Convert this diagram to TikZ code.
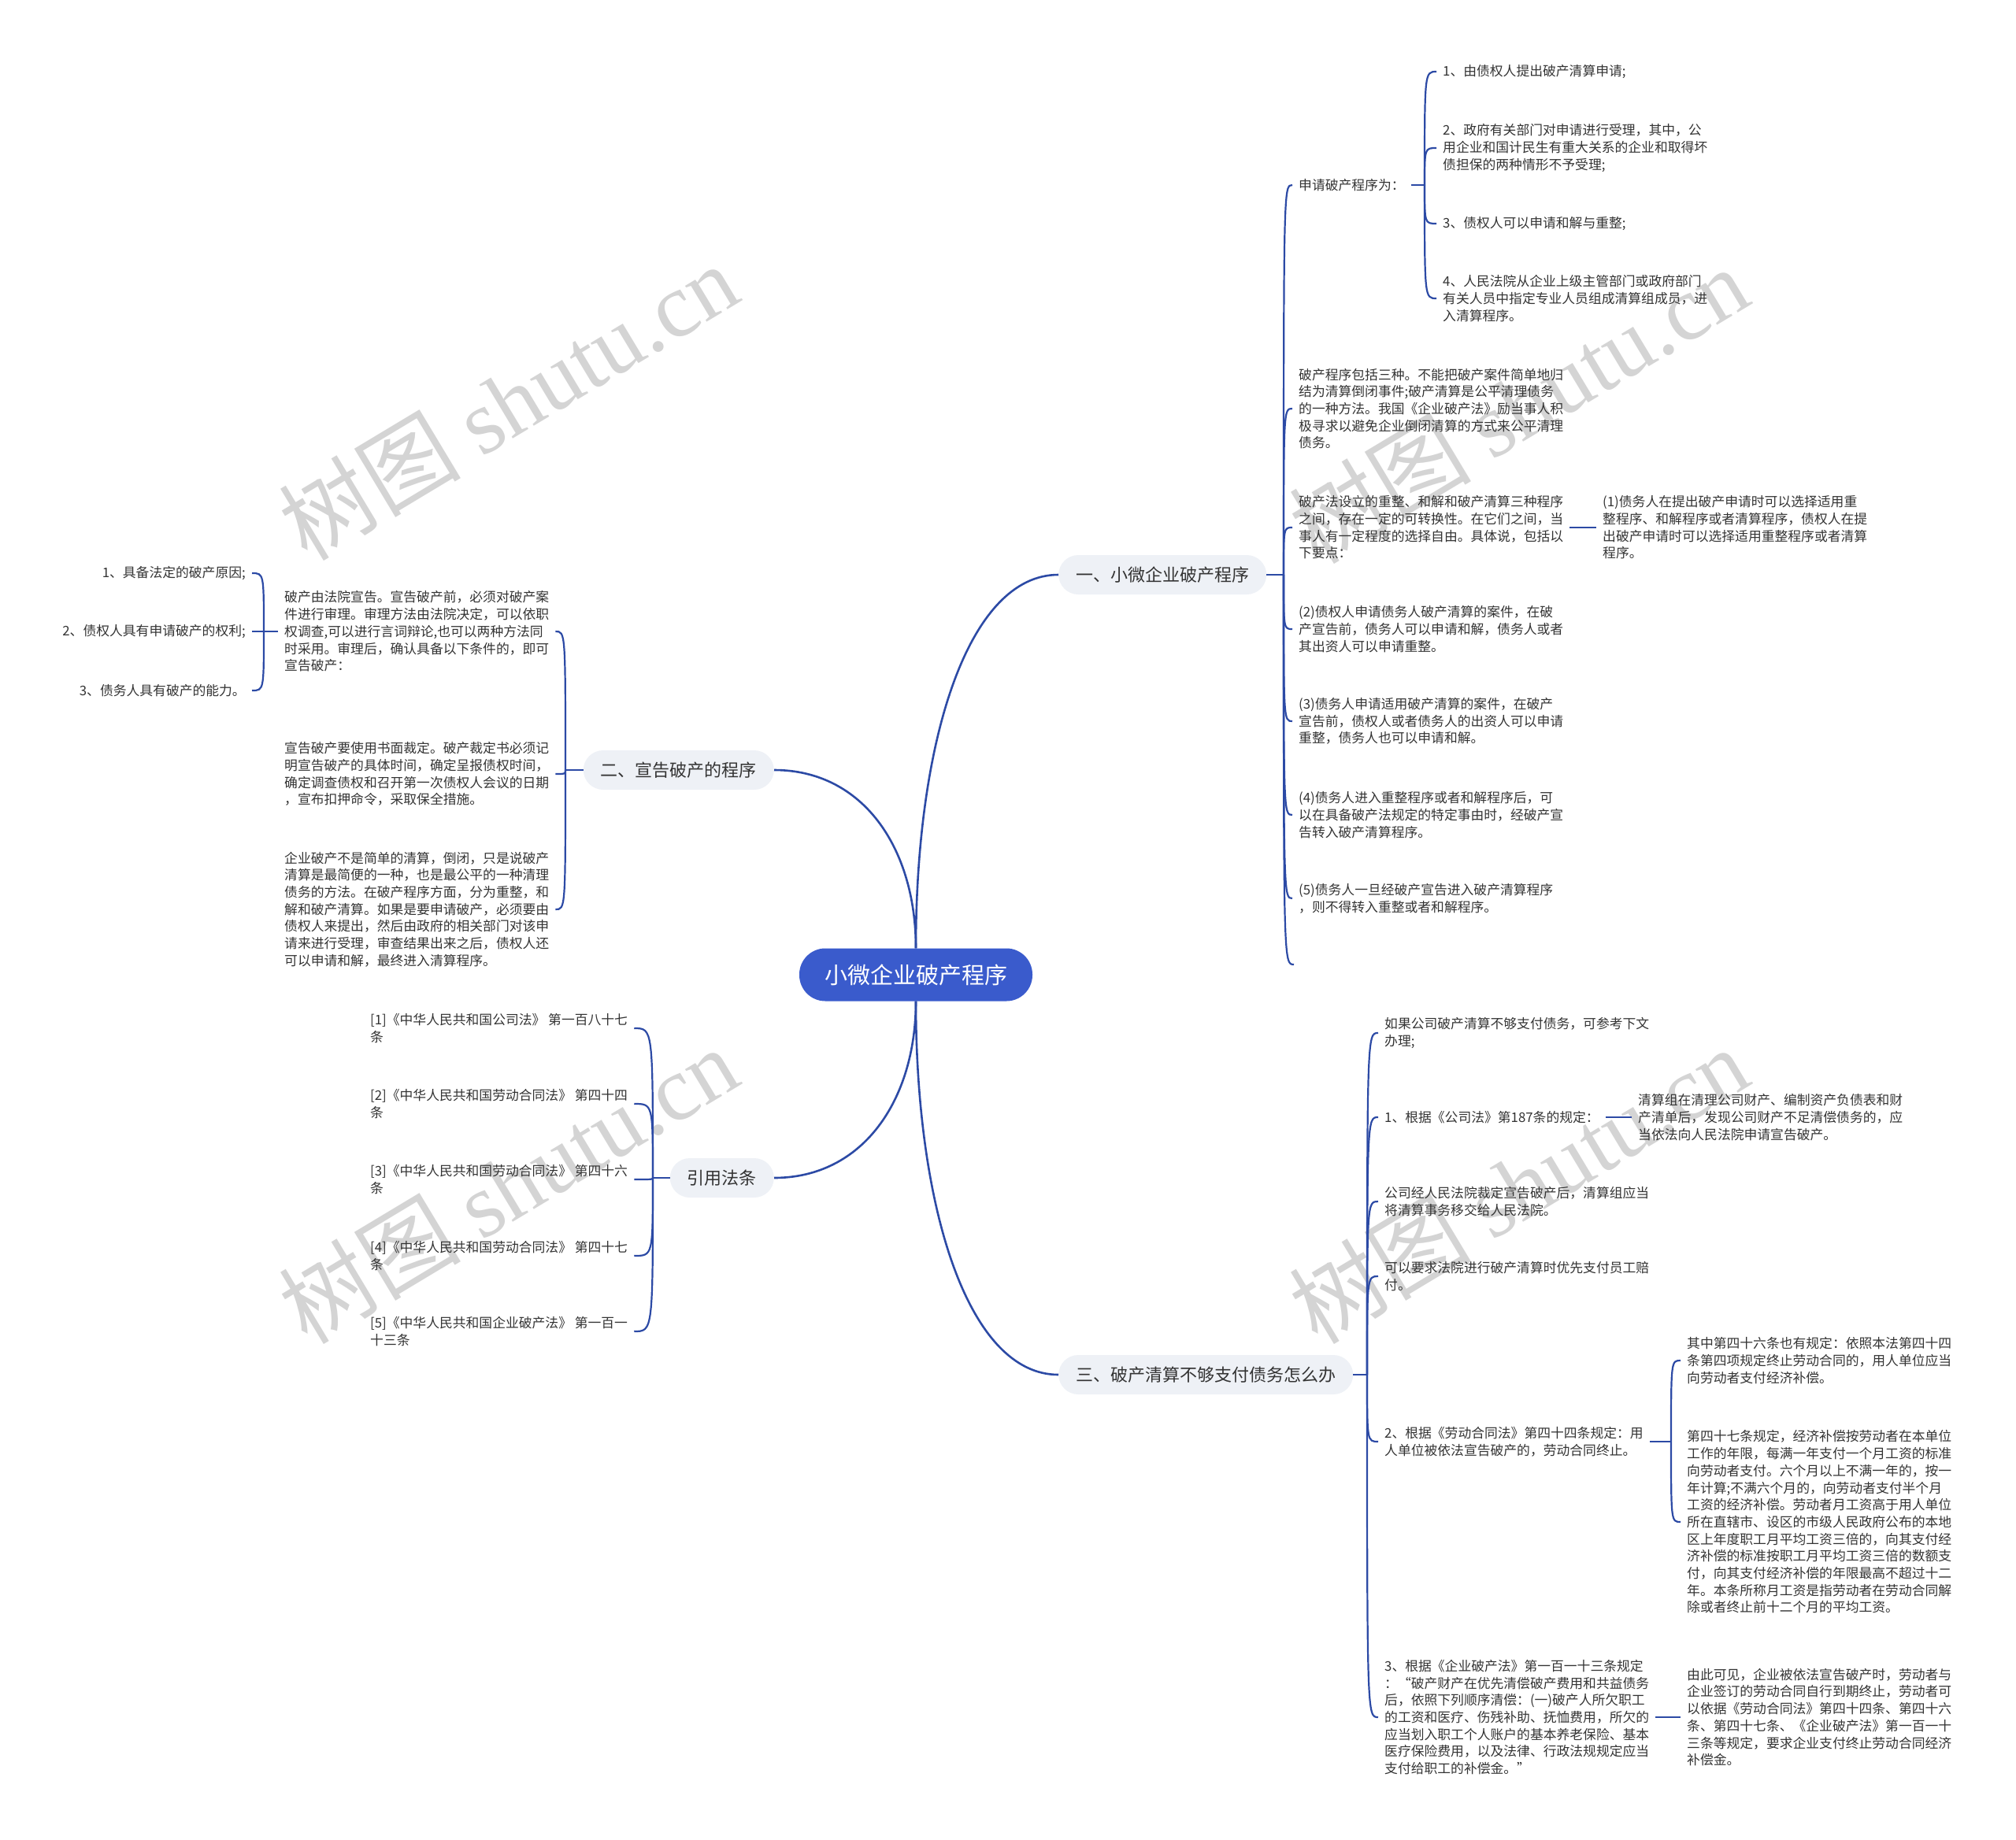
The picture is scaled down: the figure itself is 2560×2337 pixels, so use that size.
\documentclass[tikz,border=0pt]{standalone}
\usepackage{fontspec}
\setmainfont{Noto Sans CJK SC}
\newfontfamily\wmlatin{Liberation Serif}
\definecolor{rootblue}{HTML}{3A5BCC}
\definecolor{branchfill}{HTML}{EEF1F6}
\definecolor{linkblue}{HTML}{2C4AA5}
\definecolor{txt}{HTML}{333333}
\definecolor{wmgray}{HTML}{D4D4D4}
\tikzset{
  rootnode/.style={fill=rootblue,text=white,rounded corners=33pt,inner xsep=32pt,
    minimum height=67pt,font=\fontsize{29}{34}\selectfont},
  branchnode/.style={fill=branchfill,text=txt,rounded corners=25pt,inner xsep=22pt,
    minimum height=50pt,font=\fontsize{22}{26}\selectfont},
  leaf/.style={text=txt,align=left,inner xsep=8pt,inner ysep=3pt,
    font=\fontsize{16.8}{21.7}\selectfont},
  leafr/.style={leaf,align=right},
  link/.style={draw=linkblue,line width=2.6pt},
  twig/.style={draw=linkblue,line width=2.2pt},
  wmark/.style={text=wmgray,rotate=31,font=\fontsize{116}{116}\selectfont}
}
\begin{document}
\begin{tikzpicture}[x=1pt,y=-1pt]
    \useasboundingbox (0,0) rectangle (2560,2337);

    \foreach \x/\y [count=\i] in {645/510,1928/514,645/1505,1928/1505}{
      \node[wmark] (wm\i) at (\x,\y) {树图 {\wmlatin shutu.cn}};
    }

    \node[rootnode] (root) at (1163,1238) {小微企业破产程序};

    \node[branchnode,anchor=west] (b1) at (1344,730) {一、小微企业破产程序};
    \node[branchnode,anchor=east] (b2) at (983,978) {二、宣告破产的程序};
    \node[branchnode,anchor=east] (b3) at (983,1496) {引用法条};
    \node[branchnode,anchor=west] (b4) at (1344,1746) {三、破产清算不够支付债务怎么办};

    \draw[link] (root.north) .. controls +(0,-266) and +(-114,0) .. (b1.west);
    \draw[link] (root.north) .. controls +(0,-127) and +(113,0) .. (b2.east);
    \draw[link] (root.south) .. controls +(0,125) and +(113,0) .. (b3.east);
    \draw[link] (root.south) .. controls +(0,265) and +(-114,0) .. (b4.west);

    % 一
    \coordinate (j1) at (1630,730);
    \draw[twig] (b1.east) -- (j1);
    \foreach \n/\y/\t in {
        c11/235/{申请破产程序为：},
        c12/519/{破产程序包括三种。不能把破产案件简单地归\\结为清算倒闭事件;破产清算是公平清理债务\\的一种方法。我国《企业破产法》励当事人积\\极寻求以避免企业倒闭清算的方式来公平清理\\债务。},
        c13/670/{破产法设立的重整、和解和破产清算三种程序\\之间，存在一定的可转换性。在它们之间，当\\事人有一定程度的选择自由。具体说，包括以\\下要点：},
        c14/799/{(2)债权人申请债务人破产清算的案件，在破\\产宣告前，债务人可以申请和解，债务人或者\\其出资人可以申请重整。},
        c15/916/{(3)债务人申请适用破产清算的案件，在破产\\宣告前，债权人或者债务人的出资人可以申请\\重整，债务人也可以申请和解。},
        c16/1035/{(4)债务人进入重整程序或者和解程序后，可\\以在具备破产法规定的特定事由时，经破产宣\\告转入破产清算程序。},
        c17/1141/{(5)债务人一旦经破产宣告进入破产清算程序\\，则不得转入重整或者和解程序。}}{
      \node[leaf,anchor=west] (\n) at (1641,\y) {\t};
      \draw[twig] (j1) .. controls (j1 |- \n.west) .. (\n.west);
    }
    \coordinate (t1) at (1643,1225);
    \draw[twig] (j1) .. controls (j1 |- t1) .. (t1);

    \coordinate (j11) at (1809,235);
    \draw[twig] (c11.east) -- (j11);
    \foreach \n/\y/\t in {
        c111/91/{1、由债权人提出破产清算申请;},
        c112/188/{2、政府有关部门对申请进行受理，其中，公\\用企业和国计民生有重大关系的企业和取得坏\\债担保的两种情形不予受理;},
        c113/284/{3、债权人可以申请和解与重整;},
        c114/379/{4、人民法院从企业上级主管部门或政府部门\\有关人员中指定专业人员组成清算组成员，进\\入清算程序。}}{
      \node[leaf,anchor=west] (\n) at (1824,\y) {\t};
      \draw[twig] (j11) .. controls (j11 |- \n.west) .. (\n.west);
    }

    \node[leaf,anchor=west] (c131) at (2027,670) {(1)债务人在提出破产申请时可以选择适用重\\整程序、和解程序或者清算程序，债权人在提\\出破产申请时可以选择适用重整程序或者清算\\程序。};
    \draw[twig] (c13.east) -- (c131.west);

    % 二
    \coordinate (j2) at (718,978);
    \draw[twig] (b2.west) -- (j2);
    \foreach \n/\y/\t in {
        c21/802/{破产由法院宣告。宣告破产前，必须对破产案\\件进行审理。审理方法由法院决定，可以依职\\权调查,可以进行言词辩论,也可以两种方法同\\时采用。审理后，确认具备以下条件的，即可\\宣告破产：},
        c22/983/{宣告破产要使用书面裁定。破产裁定书必须记\\明宣告破产的具体时间，确定呈报债权时间，\\确定调查债权和召开第一次债权人会议的日期\\，宣布扣押命令，采取保全措施。},
        c23/1155/{企业破产不是简单的清算，倒闭，只是说破产\\清算是最简便的一种，也是最公平的一种清理\\债务的方法。在破产程序方面，分为重整，和\\解和破产清算。如果是要申请破产，必须要由\\债权人来提出，然后由政府的相关部门对该申\\请来进行受理，审查结果出来之后，债权人还\\可以申请和解，最终进入清算程序。}}{
      \node[leaf,anchor=west] (\n) at (353,\y) {\t};
      \draw[twig] (j2) .. controls (j2 |- \n.east) .. (\n.east);
    }

    \coordinate (j21) at (335,802);
    \draw[twig] (c21.west) -- (j21);
    \foreach \n/\y/\t in {
        c211/728/{1、具备法定的破产原因;},
        c212/802/{2、债权人具有申请破产的权利;},
        c213/877/{3、债务人具有破产的能力。}}{
      \node[leafr,anchor=east] (\n) at (320,\y) {\t};
      \draw[twig] (j21) .. controls (j21 |- \n.east) .. (\n.east);
    }

    % 引用法条
    \coordinate (j3) at (829,1496);
    \draw[twig] (b3.west) -- (j3);
    \foreach \n/\y/\t in {
        c31/1306/{[1]《中华人民共和国公司法》 第一百八十七\\条},
        c32/1402/{[2]《中华人民共和国劳动合同法》 第四十四\\条},
        c33/1498/{[3]《中华人民共和国劳动合同法》 第四十六\\条},
        c34/1595/{[4]《中华人民共和国劳动合同法》 第四十七\\条},
        c35/1691/{[5]《中华人民共和国企业破产法》 第一百一\\十三条}}{
      \node[leaf,anchor=west] (\n) at (462,\y) {\t};
      \draw[twig] (j3) .. controls (j3 |- \n.east) .. (\n.east);
    }

    % 三
    \coordinate (j4) at (1736,1746);
    \draw[twig] (b4.east) -- (j4);
    \foreach \n/\y/\t in {
        c41/1312/{如果公司破产清算不够支付债务，可参考下文\\办理;},
        c42/1419/{1、根据《公司法》第187条的规定：},
        c43/1526/{公司经人民法院裁定宣告破产后，清算组应当\\将清算事务移交给人民法院。},
        c44/1621/{可以要求法院进行破产清算时优先支付员工赔\\付。},
        c45/1831/{2、根据《劳动合同法》第四十四条规定：用\\人单位被依法宣告破产的，劳动合同终止。},
        c46/2181/{3、根据《企业破产法》第一百一十三条规定\\：“破产财产在优先清偿破产费用和共益债务\\后，依照下列顺序清偿：(一)破产人所欠职工\\的工资和医疗、伤残补助、抚恤费用，所欠的\\应当划入职工个人账户的基本养老保险、基本\\医疗保险费用，以及法律、行政法规规定应当\\支付给职工的补偿金。”}}{
      \node[leaf,anchor=west] (\n) at (1750,\y) {\t};
      \draw[twig] (j4) .. controls (j4 |- \n.west) .. (\n.west);
    }

    \node[leaf,anchor=west] (c421) at (2072,1419) {清算组在清理公司财产、编制资产负债表和财\\产清单后，发现公司财产不足清偿债务的，应\\当依法向人民法院申请宣告破产。};
    \draw[twig] (c42.east) -- (c421.west);

    \coordinate (j45) at (2122,1831);
    \draw[twig] (c45.east) -- (j45);
    \foreach \n/\y/\t in {
        c451/1728/{其中第四十六条也有规定：依照本法第四十四\\条第四项规定终止劳动合同的，用人单位应当\\向劳动者支付经济补偿。},
        c452/1933/{第四十七条规定，经济补偿按劳动者在本单位\\工作的年限，每满一年支付一个月工资的标准\\向劳动者支付。六个月以上不满一年的，按一\\年计算;不满六个月的，向劳动者支付半个月\\工资的经济补偿。劳动者月工资高于用人单位\\所在直辖市、设区的市级人民政府公布的本地\\区上年度职工月平均工资三倍的，向其支付经\\济补偿的标准按职工月平均工资三倍的数额支\\付，向其支付经济补偿的年限最高不超过十二\\年。本条所称月工资是指劳动者在劳动合同解\\除或者终止前十二个月的平均工资。}}{
      \node[leaf,anchor=west] (\n) at (2134,\y) {\t};
      \draw[twig] (j45) .. controls (j45 |- \n.west) .. (\n.west);
    }

    \node[leaf,anchor=west] (c461) at (2134,2181) {由此可见，企业被依法宣告破产时，劳动者与\\企业签订的劳动合同自行到期终止，劳动者可\\以依据《劳动合同法》第四十四条、第四十六\\条、第四十七条、《企业破产法》第一百一十\\三条等规定，要求企业支付终止劳动合同经济\\补偿金。};
    \draw[twig] (c46.east) -- (c461.west);

\end{tikzpicture}
\end{document}
